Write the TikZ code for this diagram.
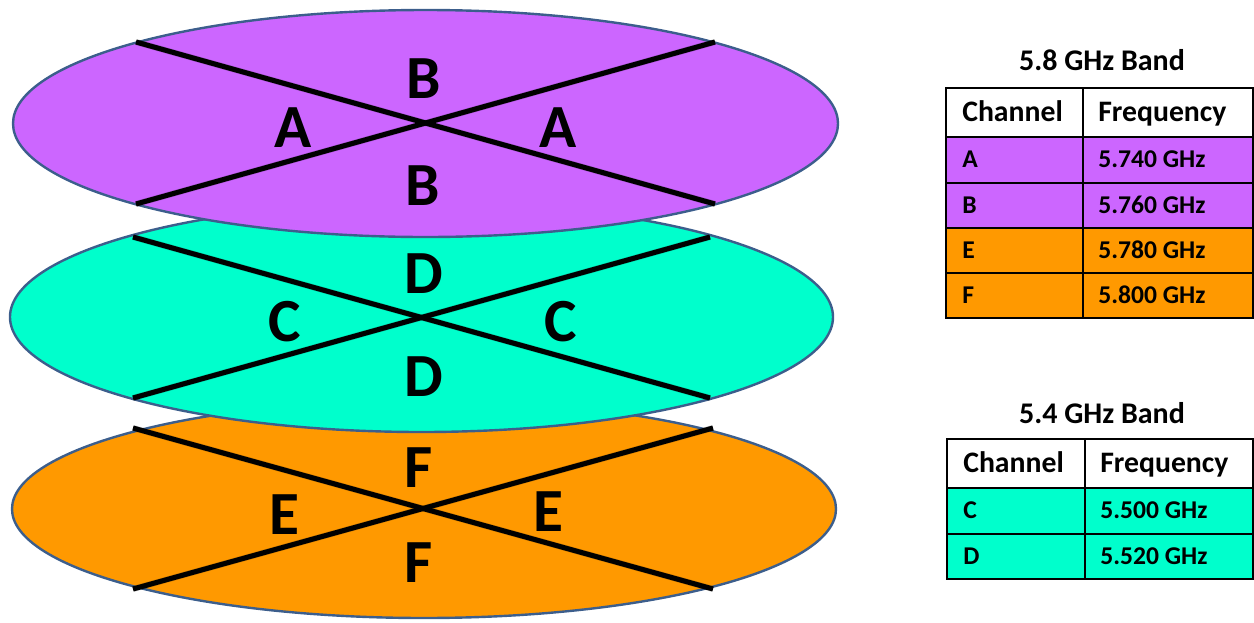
\documentclass[tikz,border=0pt]{standalone}
\usepackage{fontspec}
\setmainfont{Carlito}
\usetikzlibrary{shapes.geometric}
\definecolor{violetfill}{HTML}{CC66FF}
\definecolor{aquafill}{HTML}{00FFCC}
\definecolor{amberfill}{HTML}{FF9900}
\definecolor{rimblue}{HTML}{3C5E8C}
\tikzset{
  disc/.style={ellipse, draw=rimblue, line width=1.8pt, inner sep=0pt, outer sep=0pt},
  ray/.style={line width=3.8pt, black},
  rayshadow/.style={line width=4.5pt, black, opacity=0.18, shift={(2,3)}},
  sector/.style={font=\fontsize{46}{46}\selectfont\bfseries, inner sep=0pt},
  bandtitle/.style={font=\fontsize{22.5}{22.5}\selectfont\bfseries, anchor=base, inner sep=0pt},
  headtext/.style={font=\fontsize{22.3}{22.3}\selectfont\bfseries, anchor=base west, inner sep=0pt},
  celltext/.style={font=\fontsize{19.2}{19.2}\selectfont\bfseries, anchor=base west, inner sep=0pt},
  grid/.style={line width=1.3pt, black}
}
\newcommand{\crossrays}[4]{%
  % #1 left x, #2 right x, #3 upper y, #4 lower y
  \coordinate (ul) at (#1,#3); \coordinate (ur) at (#2,#3);
  \coordinate (ll) at (#1,#4); \coordinate (lr) at (#2,#4);
  \draw[rayshadow] (ul) -- (lr); \draw[rayshadow] (ll) -- (ur);
  \draw[ray] (ul) -- (lr); \draw[ray] (ll) -- (ur);
}
\begin{document}
\begin{tikzpicture}[x=0.75pt,y=-0.75pt]
\useasboundingbox (0,0) rectangle (1254,622);

% bottom disc: channels E / F
\node[disc, fill=amberfill, minimum width=618pt, minimum height=163.5pt] (diskEF) at (424,509) {};
\crossrays{133}{713}{428}{589}
\node[sector] (ftop) at (419,468) {F};
\node[sector] (eleft) at (284,515) {E};
\node[sector] (eright) at (548,512) {E};
\node[sector] (fbot) at (419,563) {F};

% middle disc: channels C / D
\node[disc, fill=aquafill, minimum width=617.25pt, minimum height=172.5pt] (diskCD) at (421.5,317) {};
\crossrays{133}{710}{237}{398}
\node[sector] (dtop) at (424,274) {D};
\node[sector] (cleft) at (285,322) {C};
\node[sector] (cright) at (561,322) {C};
\node[sector] (dbot) at (424,377) {D};

% top disc: channels A / B
\node[disc, fill=violetfill, minimum width=618.75pt, minimum height=170.25pt] (diskAB) at (425.5,123.5) {};
\crossrays{136}{715}{42}{204}
\node[sector] (btop) at (424,79) {B};
\node[sector] (aleft) at (293,128) {A};
\node[sector] (aright) at (558,128) {A};
\node[sector] (bbot) at (423,186) {B};

% 5.8 GHz table
\node[bandtitle] (title58) at (1102,70) {5.8 GHz Band};
\fill[white] (946,88) rectangle (1253,137);
\fill[violetfill] (946,137) rectangle (1253,228);
\fill[amberfill] (946,228) rectangle (1253,318);
\draw[grid] (946,88) rectangle (1253,318);
\foreach \yy in {137,183,228,273} \draw[grid] (946,\yy) -- (1253,\yy);
\draw[grid] (1083,88) -- (1083,318);
\node[headtext] (ch58) at (962,121.5) {Channel};
\node[headtext] (fr58) at (1098,121.5) {Frequency};
\node[celltext] (ra) at (962,167.5) {A};
\node[celltext] (fa) at (1098,167.5) {5.740 GHz};
\node[celltext] (rb) at (962,213) {B};
\node[celltext] (fb) at (1098,213) {5.760 GHz};
\node[celltext] (re) at (962,258) {E};
\node[celltext] (fe) at (1098,258) {5.780 GHz};
\node[celltext] (rf) at (962,303) {F};
\node[celltext] (ff) at (1098,303) {5.800 GHz};

% 5.4 GHz table
\node[bandtitle] (title54) at (1102,423) {5.4 GHz Band};
\fill[white] (947,439) rectangle (1253,488);
\fill[aquafill] (947,488) rectangle (1253,579);
\draw[grid] (947,439) rectangle (1253,579);
\draw[grid] (947,488) -- (1253,488);
\draw[grid] (947,534) -- (1253,534);
\draw[grid] (1085,439) -- (1085,579);
\node[headtext] (ch54) at (963,472.5) {Channel};
\node[headtext] (fr54) at (1100,472.5) {Frequency};
\node[celltext] (rc) at (963,518.5) {C};
\node[celltext] (fc) at (1100,518.5) {5.500 GHz};
\node[celltext] (rd) at (963,564) {D};
\node[celltext] (fd) at (1100,564) {5.520 GHz};
\end{tikzpicture}
\end{document}
